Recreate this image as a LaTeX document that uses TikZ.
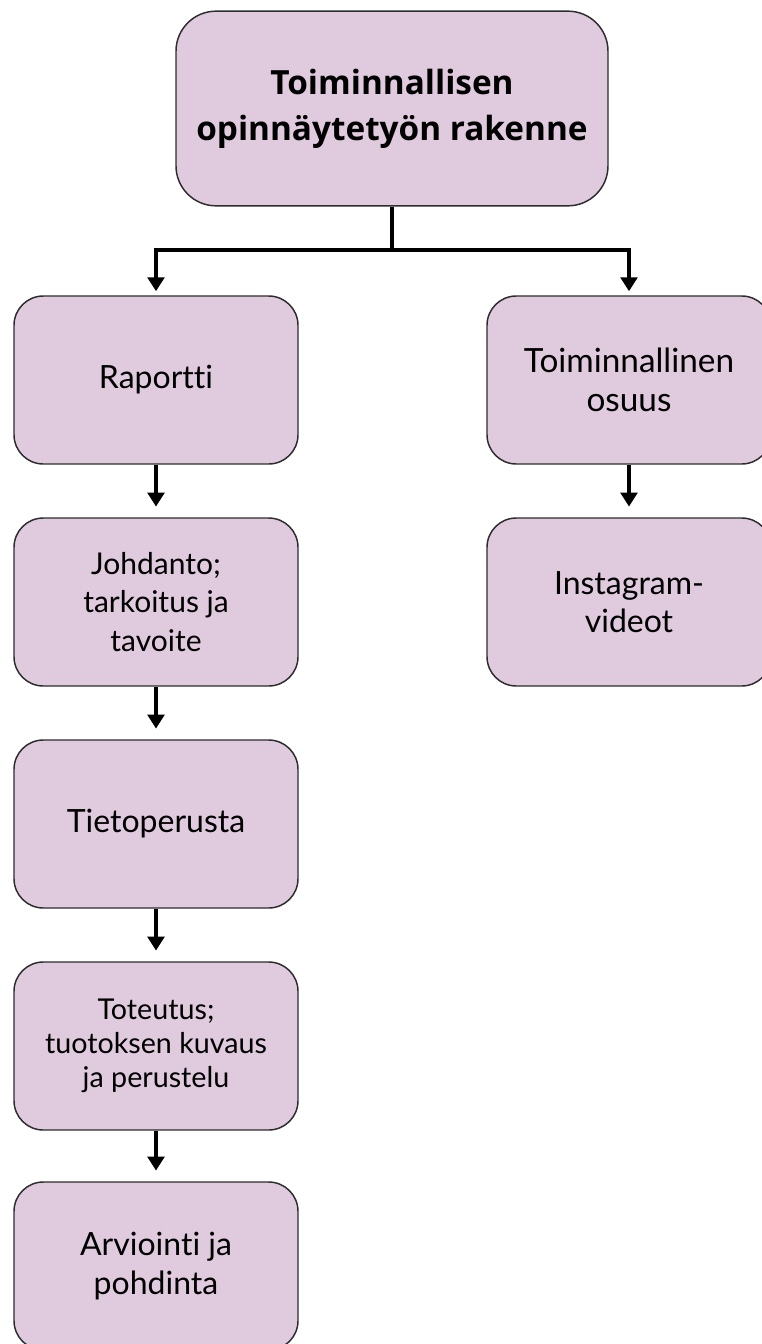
\documentclass[tikz,border=0pt]{standalone}
\usepackage{fontspec}
\setmainfont{Lato}[Ligatures=NoCommon]
\newfontfamily\titlefont{Open Sans}[Ligatures=NoCommon]
\usetikzlibrary{arrows.meta}
\definecolor{boxfill}{RGB}{224,202,222}
\definecolor{boxline}{RGB}{45,45,45}
\begin{document}
\begin{tikzpicture}[x=0.75pt,y=-0.75pt,
  box/.style={draw=boxline, line width=1.1pt, fill=boxfill, rounded corners=22pt,
    align=center, inner sep=0pt, minimum width=213pt, minimum height=126pt,
    font=\fontsize{24pt}{29pt}\selectfont},
  topbox/.style={box, minimum width=324pt, minimum height=146pt, rounded corners=30pt,
    font=\titlefont\fontsize{25pt}{34.5pt}\selectfont\bfseries},
  conn/.style={line width=3pt, draw=black},
  arr/.style={conn, -{Triangle[width=12.5pt,length=10.5pt]}, shorten >=3pt}
]
\useasboundingbox (0,0) rectangle (761,1344);
\node[topbox] (top) at (392,108.5) {Toiminnallisen\\opinnäytetyön rakenne};
\node[box] (rap) at (156,380) {Raportti};
\node[box, font=\fontsize{22.5pt}{29pt}\selectfont] (joh) at (156,602) {Johdanto;\\tarkoitus ja\\tavoite};
\node[box] (tie) at (156,824) {Tietoperusta};
\node[box, font=\fontsize{21.5pt}{25.5pt}\selectfont] (tot) at (156,1046) {Toteutus;\\tuotoksen kuvaus\\ja perustelu};
\node[box] (arv) at (156,1266) {Arviointi ja\\pohdinta};
\node[box, font=\fontsize{25pt}{29pt}\selectfont] (toi) at (629,380) {Toiminnallinen\\osuus};
\node[box] (ins) at (629,602) {Instagram-\\videot};
\coordinate (hub) at (392,250);
\draw[conn] (top.south) -- (hub);
\draw[arr] (hub) -| (rap.north);
\draw[arr] (hub) -| (toi.north);
\draw[arr, shorten >=8pt] (rap) -- (joh);
\draw[arr, shorten >=8pt] (joh) -- (tie);
\draw[arr, shorten >=8pt] (tie) -- (tot);
\draw[arr, shorten >=8pt] (tot) -- (arv);
\draw[arr, shorten >=8pt] (toi) -- (ins);
\end{tikzpicture}
\end{document}
